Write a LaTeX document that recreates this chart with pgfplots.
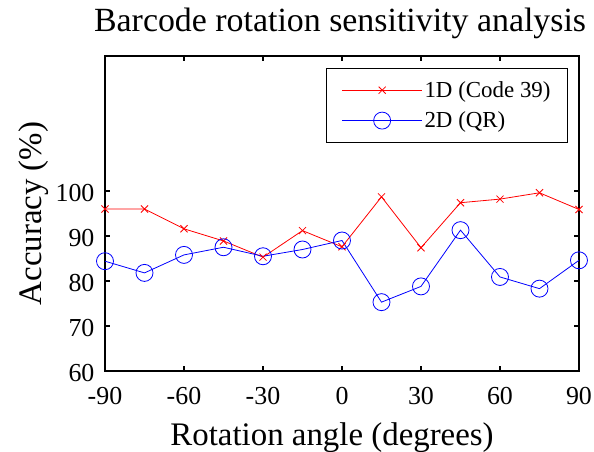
\documentclass[border=0pt]{standalone}
\usepackage{pgfplots}
\pgfplotsset{compat=1.18}
\usepackage{fontspec}
\setmainfont{Liberation Serif}

% Recognition accuracy against barcode rotation angle
\pgfplotstableread{
angle  oned  qr
-90    96.0  84.4
-75    96.0  81.8
-60    91.6  85.8
-45    88.9  87.5
-30    85.3  85.5
-15    91.2  87.0
0      87.6  89.0
15     98.7  75.3
30     87.4  78.8
45     97.4  91.3
60     98.2  80.9
75     99.6  78.3
90     95.9  84.6
}\rotdata

\begin{document}
\begin{tikzpicture}
\begin{axis}[
  name=main,
  scale only axis, width=474bp, height=315bp,
  xmin=-90, xmax=90, ymin=60, ymax=130,
  xtick={-90,-60,...,90}, ytick={60,70,...,100},
  tick align=inside, major tick length=5bp,
  every axis/.append style={line width=1.1bp},
  tick style={line width=1.1bp, black},
  /pgf/number format/assume math mode=true,
  tick label style={font=\fontsize{26}{28}\selectfont},
  xticklabel style={inner sep=0pt, yshift=-16bp},
  yticklabel style={inner sep=0pt, xshift=-10bp, yshift=-2bp},
  label style={font=\fontsize{33}{35}\selectfont},
  xlabel={Rotation angle (degrees)},
  ylabel={Accuracy (\%)},
  xlabel style={at={(axis description cs:0.479,-0.237)}, anchor=base},
  ylabel style={at={(axis description cs:-0.135,0.5)}, anchor=base},
  title={Barcode rotation sensitivity analysis},
  title style={font=\fontsize{34}{36}\selectfont, at={(axis description cs:0.496,1.06)}, anchor=base},
  legend style={at={(0.977,0.962)}, anchor=north east, draw=black, line width=1.1bp,
    font=\fontsize{23}{25}\selectfont, inner xsep=15bp, inner ysep=11bp,
    row sep=9bp, cells={anchor=west}},
  legend image code/.code={%
    \draw[mark repeat=2, mark phase=2, line width=0.8bp]
      plot coordinates {(0bp,0bp) (40bp,0bp) (80bp,0bp)};},
  legend cell align=left,
]
\addplot[red, line width=0.8bp, mark=x, mark size=5bp, mark options={solid}]
  table[x=angle, y=oned] {\rotdata};
\addlegendentry{1D (Code 39)}
\addplot[blue, line width=0.8bp, mark=o, mark size=8.5bp, mark options={solid}]
  table[x=angle, y=qr] {\rotdata};
\addlegendentry{2D (QR)}
\end{axis}
\pgfresetboundingbox
\useasboundingbox (main.south west) ++(-105bp,-81bp) rectangle ++(594bp,452bp);
\end{tikzpicture}
\end{document}
